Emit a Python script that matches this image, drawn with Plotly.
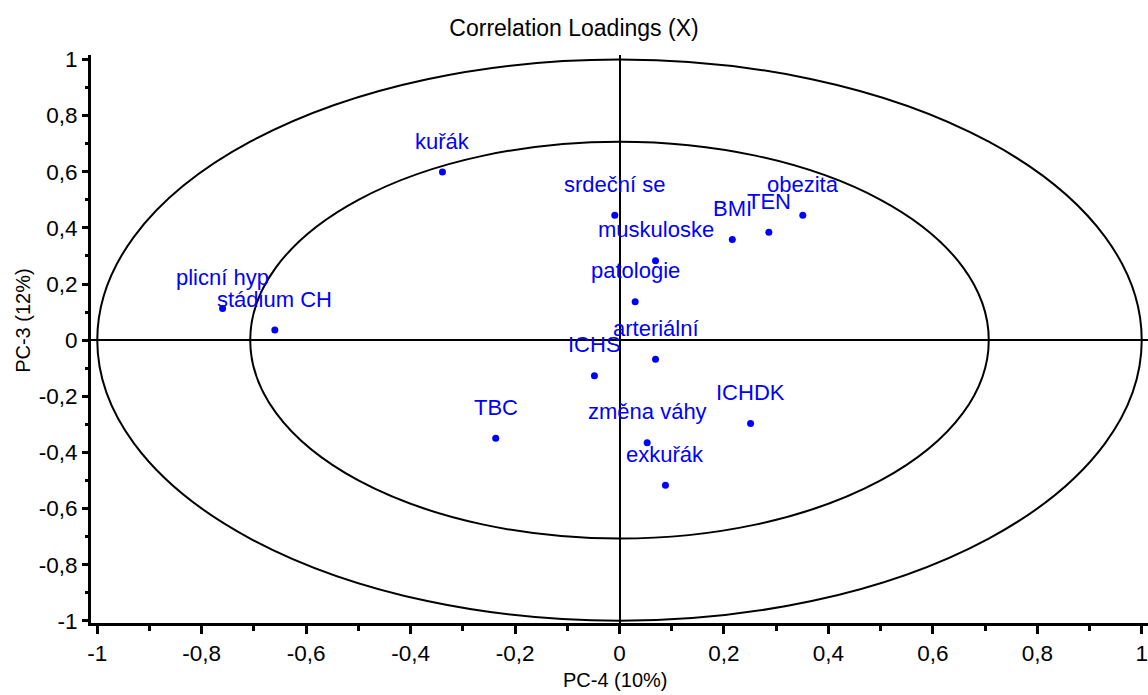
import plotly.graph_objects as go

# ---- data ----
variables = ["kuřák", "plicní hyp", "stádium CH", "srdeční se", "muskuloske",
             "patologie", "BMI", "TEN", "obezita", "arteriální", "ICHS",
             "TBC", "ICHDK", "změna váhy", "exkuřák"]
pc4 = [-0.339, -0.760, -0.660, -0.009, 0.069, 0.030, 0.216, 0.286, 0.351,
       0.069, -0.048, -0.237, 0.251, 0.053, 0.088]
pc3 = [0.599, 0.113, 0.036, 0.445, 0.283, 0.137, 0.359, 0.384, 0.445,
       -0.068, -0.127, -0.350, -0.297, -0.366, -0.517]

tick_vals = [-1, -0.8, -0.6, -0.4, -0.2, 0, 0.2, 0.4, 0.6, 0.8, 1]
tick_text = ["-1", "-0,8", "-0,6", "-0,4", "-0,2", "0", "0,2", "0,4", "0,6", "0,8", "1"]

ellipse_radii = [1.0, 0.7071]

FONT = "Liberation Sans, Arial, sans-serif"
BLUE = "#0000FF"

fig = go.Figure()
fig.add_trace(go.Scatter(
    x=pc4, y=pc3, mode="markers",
    marker=dict(color=BLUE, size=7),
    hoverinfo="text", text=variables, showlegend=False,
))

for r in ellipse_radii:
    fig.add_shape(type="circle", xref="x", yref="y",
                  x0=-r, x1=r, y0=-r, y1=r,
                  line=dict(color="black", width=2), layer="above")

for name, x, y in zip(variables, pc4, pc3):
    fig.add_annotation(x=x, y=y, text=name, showarrow=False,
                       xanchor="center", yanchor="middle", yshift=31,
                       font=dict(family=FONT, size=22, color=BLUE))

# axis titles as annotations for precise placement
fig.add_annotation(xref="paper", yref="paper", x=0.496, y=0, yshift=-57,
                   text="PC-4 (10%)", showarrow=False,
                   xanchor="center", yanchor="middle",
                   font=dict(family=FONT, size=20, color="black"))
fig.add_annotation(xref="paper", yref="paper", x=0, xshift=-68, y=0.532,
                   text="PC-3 (12%)", showarrow=False, textangle=-90,
                   xanchor="center", yanchor="middle",
                   font=dict(family=FONT, size=20, color="black"))

axis_common = dict(
    tickvals=tick_vals, ticktext=tick_text,
    showgrid=False, showline=True, linecolor="black", linewidth=3,
    zeroline=True, zerolinecolor="black", zerolinewidth=2,
    ticks="outside", tickcolor="black", tickwidth=2.5,
    tickfont=dict(family=FONT, size=22.5, color="black"),
    mirror=False,
)

fig.update_layout(
    width=1148, height=695,
    margin=dict(l=91, r=0, t=55, b=72),
    paper_bgcolor="white", plot_bgcolor="white",
    title=dict(text="Correlation Loadings (X)", x=0.5, xanchor="center",
               y=0.96, yanchor="middle",
               font=dict(family=FONT, size=23, color="black")),
    xaxis=dict(range=[-1.012, 1.012], ticklen=8,
               minor=dict(dtick=0.1, tick0=0, ticks="outside", ticklen=5,
                          tickwidth=2.5, tickcolor="black", showgrid=False),
               **axis_common),
    yaxis=dict(range=[-1.008, 1.016], ticklen=6,
               minor=dict(dtick=0.1, tick0=0, ticks="outside", ticklen=3,
                          tickwidth=2.5, tickcolor="black", showgrid=False),
               **axis_common),
    showlegend=False,
)

fig.write_html("out.html")
